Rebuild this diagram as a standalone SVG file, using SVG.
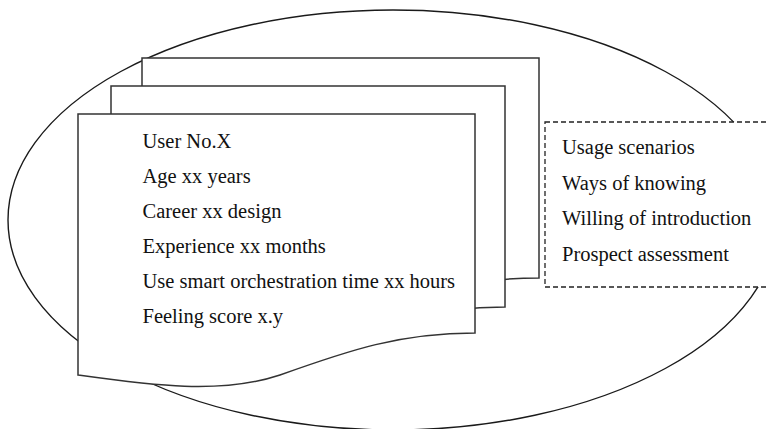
<svg xmlns="http://www.w3.org/2000/svg" width="767" height="429" viewBox="0 0 767 429">
<style>
.outline{fill:none;stroke:#1a1a1a;stroke-width:1.4}
.doc{fill:#fff;stroke:#333;stroke-width:1.5}
.dash{fill:#fff;stroke:#222;stroke-width:1.3;stroke-dasharray:5,3}
.t{font-family:"Liberation Serif","Times New Roman",serif;font-size:20.5px;fill:#111}
</style>
<rect width="767" height="429" fill="#fff"/>
<g id="boundary">
<ellipse class="outline" cx="393" cy="220" rx="385" ry="210"/>
</g>
<g id="doc3">
<path class="doc" d="M142,58 H539 V278 C464,278 414,295 344,320 C284,340 214,330 142,320 Z"/>
</g>
<g id="doc2">
<path class="doc" d="M111,86 H505 V307 C430,307 380,324 310,349 C250,369 180,359 111,349 Z"/>
</g>
<g id="doc1">
<path class="doc" d="M78,114 H475 V333 C400,333 350,350 280,375 C220,395 150,385 78,375 Z"/>
<text class="t" x="142.5" y="147.5">User No.X</text>
<text class="t" x="142.5" y="182.5">Age xx years</text>
<text class="t" x="142.5" y="217.5">Career xx design</text>
<text class="t" x="142.5" y="253">Experience xx months</text>
<text class="t" x="142.5" y="288">Use smart orchestration time xx hours</text>
<text class="t" x="142.5" y="323">Feeling score x.y</text>
</g>
<g id="aspects">
<rect class="dash" x="545" y="122" width="240" height="165"/>
<text class="t" x="562" y="154">Usage scenarios</text>
<text class="t" x="562" y="189.5">Ways of knowing</text>
<text class="t" x="562" y="225">Willing of introduction</text>
<text class="t" x="562" y="260.5">Prospect assessment</text>
</g>
<g id="connectors"></g>
</svg>
